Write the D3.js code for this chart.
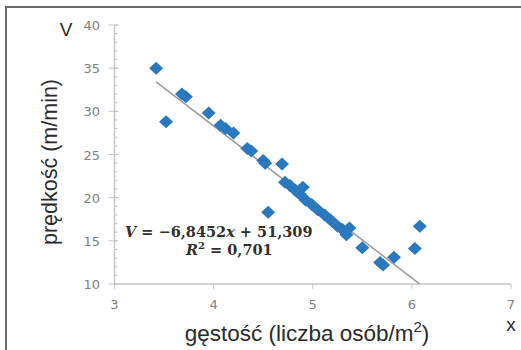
<!DOCTYPE html>
<html lang="pl">
<head>
<meta charset="UTF-8">
<title>Prędkość a gęstość</title>
<script src="https://d3js.org/d3.v7.min.js"></script>
<style>
  body { margin: 0; background: #fff; }
  svg { display: block; font-family: 'Liberation Sans', Arial, sans-serif; }
</style>
</head>
<body>
<div id="chart"></div>
<script>
// gęstość (osób/m2) i prędkość (m/min)
const density = [3.42, 3.52, 3.68, 3.72, 3.95, 4.07, 4.12, 4.2, 4.34, 4.38, 4.5, 4.52, 4.55, 4.69,
                 4.72, 4.77, 4.82, 4.87, 4.9, 4.93, 4.99, 5.05, 5.12, 5.18, 5.25, 5.3, 5.34, 5.37,
                 5.5, 5.68, 5.71, 5.82, 6.03, 6.08];
const speed = [35.0, 28.8, 32.0, 31.7, 29.8, 28.4, 28.0, 27.5, 25.7, 25.4, 24.3, 24.0, 18.3, 23.9,
               21.8, 21.4, 20.9, 20.4, 21.2, 19.7, 19.2, 18.6, 18.0, 17.4, 16.7, 16.3, 15.7, 16.5,
               14.2, 12.5, 12.2, 13.1, 14.1, 16.7];
const xTicks = [3, 4, 5, 6, 7];
const yTicks = [10, 15, 20, 25, 30, 35, 40];
// linia trendu tak jak narysowana (poczatek, koniec, nachylenie, wyraz wolny)
const trendX = [3.42, 6.08];
const trendCoef = [-8.8, 63.5];

const width = 521, height = 350;
const svg = d3.select('#chart').append('svg')
    .attr('width', width)
    .attr('height', height);

// ramka
svg.append('path')
    .attr('d', 'M6,350 V7 H521')
    .attr('fill', 'none')
    .attr('stroke', '#6b6b6b')
    .attr('stroke-width', 2);

const x = d3.scaleLinear().domain([3, 7]).range([114.5, 511]);
const y = d3.scaleLinear().domain([10, 40]).range([284, 25]);

// osie
const axisColor = '#c4c4c4';
svg.append('line')
    .attr('x1', x(3)).attr('x2', x(7))
    .attr('y1', y(10)).attr('y2', y(10))
    .attr('stroke', axisColor).attr('stroke-width', 1.5);
svg.append('line')
    .attr('x1', x(3)).attr('x2', x(3))
    .attr('y1', y(10)).attr('y2', y(40))
    .attr('stroke', axisColor).attr('stroke-width', 1.5);

// podziałka pomocnicza na osi Y
svg.selectAll('.minor')
    .data(d3.range(10, 40.01, 1))
    .enter().append('line')
    .attr('x1', x(3)).attr('x2', x(3) + 3)
    .attr('y1', d => y(d)).attr('y2', d => y(d))
    .attr('stroke', axisColor);

svg.selectAll('.ytick')
    .data(yTicks)
    .enter().append('line')
    .attr('x1', x(3) - 6).attr('x2', x(3) + 4)
    .attr('y1', d => y(d)).attr('y2', d => y(d))
    .attr('stroke', axisColor);

svg.selectAll('.xtick')
    .data(xTicks)
    .enter().append('line')
    .attr('x1', d => x(d)).attr('x2', d => x(d))
    .attr('y1', y(10)).attr('y2', y(10) + 5)
    .attr('stroke', axisColor);

svg.selectAll('.ylab')
    .data(yTicks)
    .enter().append('text')
    .attr('x', 100)
    .attr('y', d => y(d) + 5)
    .attr('text-anchor', 'end')
    .attr('font-family', "'DejaVu Sans', sans-serif")
    .attr('font-size', 13)
    .attr('fill', '#808080')
    .text(d => d);

svg.selectAll('.xlab')
    .data(xTicks)
    .enter().append('text')
    .attr('x', d => x(d))
    .attr('y', 309)
    .attr('text-anchor', 'middle')
    .attr('font-family', "'DejaVu Sans', sans-serif")
    .attr('font-size', 13)
    .attr('fill', '#808080')
    .text(d => d);

// linia trendu
svg.append('line')
    .attr('x1', x(trendX[0])).attr('y1', y(trendCoef[0] * trendX[0] + trendCoef[1]))
    .attr('x2', x(trendX[1])).attr('y2', y(trendCoef[0] * trendX[1] + trendCoef[1]))
    .attr('stroke', '#9a9a9a')
    .attr('stroke-width', 1.5);

// punkty
const pts = density.map((d, i) => ({ x: d, y: speed[i] }));
svg.selectAll('.pt')
    .data(pts)
    .enter().append('path')
    .attr('d', 'M0,-6.5 L7,0 L0,6.5 L-7,0 Z')
    .attr('transform', d => `translate(${x(d.x)},${y(d.y)})`)
    .attr('fill', '#2a78bd');

// równanie
const eq = svg.append('text')
    .attr('font-family', "'DejaVu Serif', serif")
    .attr('font-size', 14.5)
    .attr('font-weight', 'bold')
    .attr('fill', '#33302c');
const l1 = eq.append('tspan').attr('x', 125).attr('y', 237);
l1.append('tspan').attr('font-style', 'italic').text('V');
l1.append('tspan').text(' = −6,8452');
l1.append('tspan').attr('font-style', 'italic').text('x');
l1.append('tspan').text(' + 51,309');
const l2 = svg.append('text')
    .attr('font-family', "'DejaVu Serif', serif")
    .attr('font-size', 14.5)
    .attr('font-weight', 'bold')
    .attr('fill', '#33302c')
    .attr('x', 186).attr('y', 255);
l2.append('tspan').attr('font-style', 'italic').text('R');
l2.append('tspan').attr('font-size', 10).attr('dy', -6).text('2');
l2.append('tspan').attr('dy', 6).text(' = 0,701');

// tytuły osi
svg.append('text')
    .attr('x', 66).attr('y', 36)
    .attr('text-anchor', 'middle')
    .attr('font-size', 19)
    .attr('fill', '#2b2b2b')
    .text('V');

svg.append('text')
    .attr('transform', 'translate(57,162) rotate(-90)')
    .attr('text-anchor', 'middle')
    .attr('font-size', 21.5)
    .attr('fill', '#2b2b2b')
    .text('prędkość (m/min)');

const xt = svg.append('text')
    .attr('x', 307).attr('y', 341)
    .attr('text-anchor', 'middle')
    .attr('font-size', 22.5)
    .attr('fill', '#2b2b2b');
xt.append('tspan').text('gęstość (liczba osób/m');
xt.append('tspan').attr('font-size', 15).attr('dy', -9).text('2');
xt.append('tspan').attr('dy', 9).text(')');

svg.append('text')
    .attr('x', 511).attr('y', 331)
    .attr('text-anchor', 'middle')
    .attr('font-size', 19)
    .attr('fill', '#2b2b2b')
    .text('x');
</script>
</body>
</html>
